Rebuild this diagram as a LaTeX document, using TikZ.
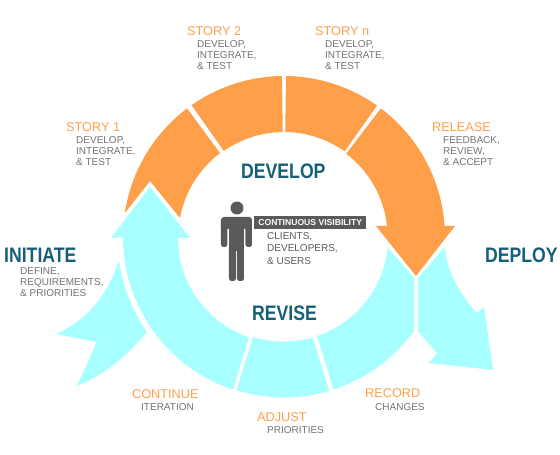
\documentclass[tikz,border=0pt]{standalone}
\usepackage{fontspec}
\setmainfont{Liberation Sans}
\newfontfamily\headfont[FakeStretch=0.84]{Liberation Sans Bold}
\definecolor{orng}{HTML}{FF9F4A}
\definecolor{cyn}{HTML}{A8FFFF}
\definecolor{hd}{HTML}{155F78}
\definecolor{gry}{HTML}{727272}
\definecolor{dk}{HTML}{5A5A5A}
\tikzset{
 x=1pt,y=1pt,
 orngseg/.style={fill=orng,draw=none},
 cynseg/.style={fill=cyn,draw=none},
 headlabel/.style={text=hd,inner sep=0,anchor=west,font=\headfont\fontsize{21}{21}\selectfont},
 storylabel/.style={text=orng,inner sep=0,anchor=west,font=\fontsize{12.7}{14}\selectfont},
 sublabel/.style={text=gry,inner sep=0,anchor=north west,align=left,font=\fontsize{10}{11}\selectfont},
 wide sublabel/.style={text=dk,inner sep=0,anchor=north west,align=left,font=\fontsize{10}{12.5}\selectfont},
 figure part/.style={fill=dk,draw=none},
}
\begin{document}
\begin{tikzpicture}
\useasboundingbox (-284,237) rectangle (276,-218);
% orange ring
\path[orngseg] (127:161) arc[start angle=127,end angle=171.5,radius=161] -- (-134,56) -- (-104,19) arc[start angle=169.6,end angle=127,radius=105] -- cycle;
\path[orngseg] (125:161) arc[start angle=125,end angle=90.7,radius=161] -- (90.7:105) arc[start angle=90.7,end angle=125,radius=105] -- cycle;
\path[orngseg] (89.3:161) arc[start angle=89.3,end angle=54.7,radius=161] -- (54.7:105) arc[start angle=54.7,end angle=89.3,radius=105] -- cycle;
\path[orngseg] (53:161) arc[start angle=53,end angle=4,radius=161] -- (171,11) -- (132,-39) -- (92,11) -- (103,11) arc[start angle=6,end angle=53,radius=104] -- cycle;
% cyan left arrow
\path[cynseg] (-134,50) -- (-94,-1) -- (-106,-1) arc[start angle=180,end angle=251,radius=105] -- (251.6:161) arc[start angle=251.6,end angle=180,radius=161] -- (-173,-1) -- cycle;
% initiate branch
\path[cynseg] (-166,-25) .. controls (-176,-58) and (-198,-84) .. (-228,-97) -- (-187,-105) -- (-207,-149) .. controls (-180,-138) and (-158,-120) .. (-137,-95) arc[start angle=214.7,end angle=188.5,radius=167] -- cycle;
% adjust
\path[cynseg] (-31,-100) arc[start angle=253,end angle=286,radius=105] -- (286.4:160.5) arc[start angle=286.4,end angle=252.8,radius=160.5] -- cycle;
% record
\path[cynseg] (103,-10) -- (130,-41) -- (130,-94) arc[start angle=324,end angle=288,radius=161] -- (33,-99) arc[start angle=288.4,end angle=354.5,radius=104] -- cycle;
% deploy
\path[cynseg] (161,-10) -- (134,-41) -- (134,-94) -- (153,-116) -- (145,-126) -- (209,-133) -- (200,-70) -- (193,-76) .. controls (175,-56) and (163,-35) .. (161,-10) -- cycle;
% person
\fill[figure part] (-47,29) circle[radius=6.5];
\fill[figure part,rounded corners=3pt] (-63,20) rectangle (-32,8);
\fill[figure part,rounded corners=2.5pt] (-63,18) rectangle (-56.5,-10);
\fill[figure part,rounded corners=2.5pt] (-38.5,18) rectangle (-32,-10);
\fill[figure part] (-55,18) rectangle (-40,-14);
\fill[figure part,rounded corners=2.5pt] (-55,-8) rectangle (-48,-44);
\fill[figure part,rounded corners=2.5pt] (-47,-8) rectangle (-40,-44);
% labels
\node[headlabel] (develop) at (241-284,237-171) {DEVELOP};
\node[headlabel] (revise) at (252-284,237-313) {REVISE};
\node[headlabel] (initiate) at (4-284,237-255) {INITIATE};
\node[headlabel] (deploy) at (485-284,237-255) {DEPLOY};
\node[storylabel] (s1) at (66-284,237-127) {STORY 1};
\node[sublabel] (s1s) at (76-284,237-136) {DEVELOP,\\INTEGRATE,\\\& TEST};
\node[storylabel] (s2) at (187-284,237-31) {STORY 2};
\node[sublabel] (s2s) at (197-284,237-40) {DEVELOP,\\INTEGRATE,\\\& TEST};
\node[storylabel] (sn) at (315-284,237-31) {STORY n};
\node[sublabel] (sns) at (325-284,237-40) {DEVELOP,\\INTEGRATE,\\\& TEST};
\node[storylabel] (rel) at (432-284,237-127) {RELEASE};
\node[sublabel] (rels) at (443-284,237-136) {FEEDBACK,\\REVIEW,\\\& ACCEPT};
\node[sublabel] (ins) at (20-284,237-267) {DEFINE,\\REQUIREMENTS,\\\& PRIORITIES};
\node[storylabel] (cont) at (132-284,237-394) {CONTINUE};
\node[sublabel] (conts) at (141-284,237-403) {ITERATION};
\node[storylabel] (adj) at (257-284,237-417) {ADJUST};
\node[sublabel] (adjs) at (267-284,237-426) {PRIORITIES};
\node[storylabel] (rec) at (365-284,237-393) {RECORD};
\node[sublabel] (recs) at (375-284,237-403) {CHANGES};
\node[fill=dk,text=white,inner sep=0pt,anchor=west,minimum width=112pt,minimum height=13pt,font=\bfseries\fontsize{8.6}{9}\selectfont] (cv) at (254-284,237-223) {CONTINUOUS VISIBILITY};
\node[wide sublabel] (cvs) at (267-284,237-232) {CLIENTS,\\DEVELOPERS,\\\& USERS};
\end{tikzpicture}
\end{document}
